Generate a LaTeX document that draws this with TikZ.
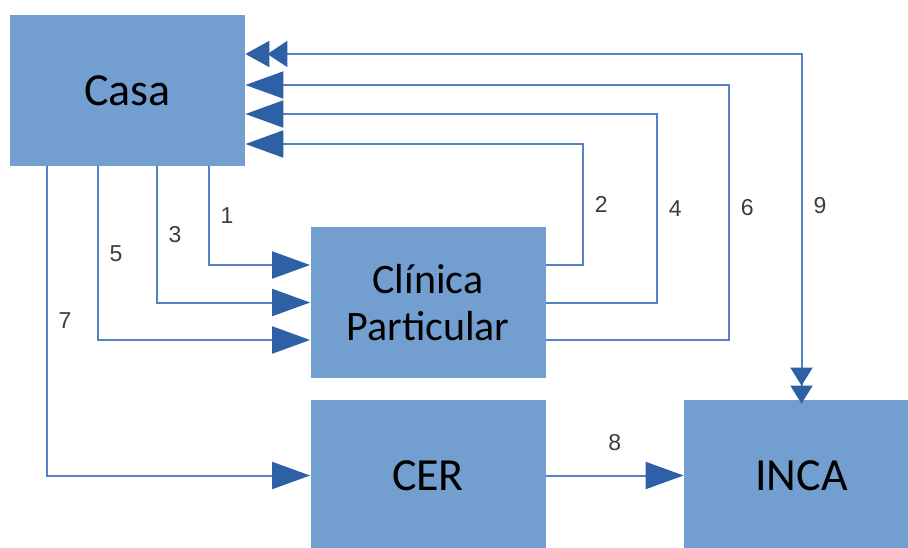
\documentclass[tikz,border=0pt]{standalone}
\usepackage{fontspec}
\setmainfont{Carlito}
\newfontfamily\numfont{Liberation Sans}
\usetikzlibrary{positioning,arrows.meta}
\definecolor{boxblue}{RGB}{114,159,207}
\definecolor{lineblue}{RGB}{84,130,196}
\definecolor{tipblue}{RGB}{46,96,166}
\definecolor{numgray}{RGB}{60,60,60}
\begin{document}
\begin{tikzpicture}%
		[x=0.5pt, y=-0.5pt,
		on grid,
		box/.style={rectangle, fill=boxblue, minimum width=117.5pt, minimum height=75.5pt, inner sep=0pt, font=\fontsize{23}{25}\selectfont, align=center},
		arr/.style={draw=lineblue, line width=1pt, -{Triangle[length=19pt, width=13.5pt, color=tipblue]}},
		dbl/.style={draw=lineblue, line width=1pt,
			{Triangle[length=12pt, width=13pt, color=tipblue] Triangle[length=10pt, width=13pt, color=tipblue, sep=-1pt]}-{Triangle[length=9pt, width=11pt, color=tipblue] Triangle[length=9pt, width=11pt, color=tipblue, sep=-2pt]}},
		lbl/.style={right=5.5pt, inner sep=0pt, text=numgray, font=\numfont\fontsize{11.5}{13}\selectfont}
		]
		\useasboundingbox (0,0) rectangle (908,547);
		\node[box] (casa) at (127.5,90.5)                  {Casa};
		\node[box, font=\fontsize{21}{23.5}\selectfont] (clinica) [below right=106pt and 150.25pt of casa] {Clínica\\Particular};
		\node[box] (cer) [below=86.5pt of clinica]         {CER};
		\node[box] (inca) [right=186.75pt of cer]          {INCA};
		
		% Casa -> Clinica
		\draw[arr] ([xshift=99.5pt]casa.south west) |- node[lbl, pos=0.25] {1} ([yshift=18.75pt]clinica.west);
		\draw[arr] ([xshift=73.5pt]casa.south west) |- node[lbl, pos=0.25] {3} (clinica.west);
		\draw[arr] ([xshift=44pt]casa.south west) |- node[lbl, pos=0.25] {5} ([yshift=-18.75pt]clinica.west);
		% Casa -> CER -> INCA
		\draw[arr] ([xshift=18.5pt]casa.south west) |- node[lbl, pos=0.25] {7} (cer.west);
		\draw[arr] (cer.east) -- node[above=12pt, inner sep=0pt, text=numgray, font=\numfont\fontsize{11.5}{13}\selectfont] {8} (inca.west);
		% Clinica -> Casa
		\draw[arr] ([yshift=18.75pt]clinica.east) -- ++(18.5pt,0) |- node[lbl, pos=0.25] {2} ([yshift=-26.75pt]casa.east);
		\draw[arr] (clinica.east) -- ++(55.5pt,0) |- node[lbl, pos=0.25] {4} ([yshift=-11.75pt]casa.east);
		\draw[arr] ([yshift=-18.75pt]clinica.east) -- ++(91.5pt,0) |- node[lbl, pos=0.26] {6} ([yshift=2.75pt]casa.east);
		% INCA <-> Casa
		\draw[dbl] ([yshift=18.25pt]casa.east) -| node[lbl, pos=0.72] {9} (inca.north);
\end{tikzpicture}
\end{document}
